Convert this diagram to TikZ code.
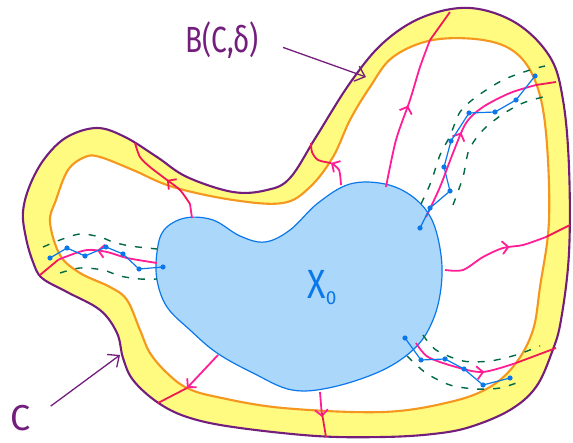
\documentclass[tikz,border=0pt]{standalone}
\usepackage{fontspec}
\setmainfont{Fira Sans}
\usetikzlibrary{arrows.meta,decorations.markings}
\definecolor{bandyellow}{RGB}{255,250,128}
\definecolor{bandorange}{RGB}{245,150,30}
\definecolor{curvepurple}{RGB}{115,30,125}
\definecolor{blobfill}{RGB}{170,215,250}
\definecolor{blobline}{RGB}{10,120,235}
\definecolor{flowpink}{RGB}{255,30,150}
\definecolor{flowred}{RGB}{240,25,85}
\definecolor{tubegreen}{RGB}{0,105,70}
\begin{document}
\begin{tikzpicture}[x=1pt,y=-1pt,
		outer/.style={fill=bandyellow, draw=curvepurple, line width=2.1pt},
		inner/.style={fill=white, draw=bandorange, line width=2.1pt},
		blob/.style={fill=blobfill, draw=blobline, line width=1.2pt},
		flow/.style={draw=flowpink, line width=1.8pt},
		cross/.style={draw=flowred, line width=1.8pt},
		tip/.style={-{Straight Barb[length=6pt,width=13pt]}},
		flowarrow/.style={postaction={decorate}, decoration={markings,
				mark=at position #1 with {\arrow{Straight Barb[length=6pt,width=13pt]}}}},
		chain/.style={draw=blobline, line width=1.2pt},
		dot/.style={fill=blobline},
		tube/.style={draw=tubegreen, line width=1.4pt, dash pattern=on 7pt off 9pt},
		lab/.style={text=curvepurple, font=\fontsize{28}{28}\selectfont},
		labarrow/.style={draw=curvepurple, line width=1.3pt, -{Straight Barb[length=9pt,width=16pt]}},
		]
		
		\useasboundingbox (0,0) rectangle (573,443);
		
		% band B(C,delta)
		\draw[outer] plot[smooth cycle, tension=0.6] coordinates {(23,212) (30,185) (45,158) (67,137) (97,128) (125,137) (157,157) (187,177) (233,192) (267,190) (290,178) (316,137) (350,83) (383,43) (423,17) (470,8) (516,23) (550,57) (563,100) (569,167) (569,253) (561,320) (552,352) (536,387) (510,410) (470,427) (433,434) (383,437) (316,436) (233,427) (187,417) (157,402) (133,380) (123,358) (117,333) (100,310) (67,292) (42,278) (33,262) (26,238)};
		\draw[inner] plot[smooth cycle, tension=0.6] coordinates {(50,222) (56,200) (68,170) (85,157) (100,157) (133,170) (173,187) (233,200) (283,203) (310,187) (333,157) (350,120) (370,87) (393,57) (433,40) (483,40) (516,53) (536,83) (546,133) (549,220) (540,287) (533,330) (516,363) (490,387) (450,402) (383,412) (283,408) (217,397) (187,388) (167,373) (150,353) (140,330) (127,300) (110,287) (80,273) (60,255)};
		
		% X_0
		\draw[blob] plot[smooth cycle, tension=0.6] coordinates {(157,252) (164,230) (185,218) (213,220) (240,236) (265,242) (290,230) (318,203) (350,184) (385,184) (413,197) (432,220) (441,255) (441,288) (433,320) (416,347) (383,370) (333,387) (292,390) (253,373) (217,353) (190,330) (167,307) (157,280)};
		
		% tubes
		\draw[tube] plot[smooth] coordinates {(43,247) (60,240) (80,234) (100,237) (113,242) (130,246) (157,249)};
		\draw[tube] plot[smooth] coordinates {(60,273) (80,268) (103,270) (120,276) (140,279) (157,279)};
		\draw[tube] plot[smooth] coordinates {(421,204) (431,182) (440,155) (450,136) (460,112) (476,97) (503,80) (530,70) (545,66)};
		\draw[tube] plot[smooth] coordinates {(453,205) (463,177) (469,150) (483,130) (503,114) (523,103) (543,97)};
		\draw[tube] plot[smooth] coordinates {(423,335) (436,350) (463,361) (490,361) (516,355) (540,346)};
		\draw[tube] plot[smooth] coordinates {(407,356) (426,373) (450,385) (476,389) (500,388) (522,381)};
		
		% flow lines
		\draw[flow] (192,218) -- (190,204);
		\draw[cross, flowarrow=0.4] plot[smooth] coordinates {(190,204) (180,190) (167,180) (150,167) (140,157) (135,143)};
		\draw[flow, tip] plot[smooth] coordinates {(341,185) (339,170) (331,163)};
		\draw[cross] plot[smooth] coordinates {(331,163) (318,160) (312,152) (311,143)};
		\draw[flow, flowarrow=0.55] plot[smooth] coordinates {(386,187) (396,140) (410,100) (420,67) (430,40)};
		\draw[cross] (430,40) -- (450,12);
		\draw[flow, flowarrow=0.5] plot[smooth] coordinates {(426,217) (440,187) (453,153) (466,123) (483,107) (510,93) (536,85)};
		\draw[cross] (536,85) -- (556,82);
		\draw[flow, flowarrow=0.65] plot[smooth] coordinates {(445,270) (463,270) (483,257) (503,248) (523,245) (546,237)};
		\draw[cross] (546,237) -- (570,225);
		\draw[flow, flowarrow=0.7] plot[smooth] coordinates {(416,343) (428,357) (456,367) (483,372) (516,363)};
		\draw[cross] (516,363) -- (556,348);
		\draw[flow, tip] (320,392) -- (322,417);
		\draw[cross] (322,413) -- (326,437);
		\draw[flow, tip] (218,355) -- (187,388);
		\draw[cross] (187,388) -- (158,403);
		\draw[flow, flowarrow=0.6] plot[smooth] coordinates {(157,263) (127,258) (107,252) (87,250) (65,257) (58,260)};
		\draw[cross] (58,260) -- (40,275);
		
		% chains
		\draw[chain] plot coordinates {(163,267) (139,269) (123,254) (106,247) (85,256) (67,248) (50,258)};
		\draw[chain] plot coordinates {(420,228) (430,208) (450,191) (444,167) (451,141) (469,113) (495,112) (516,100) (535,76)};
		\draw[chain] plot coordinates {(405,338) (421,360) (445,359) (464,369) (483,385) (510,378)};
		\foreach \p in {(163,267), (139,269), (123,254), (106,247), (85,256), (67,248), (50,258),
			(420,228), (430,208), (450,191), (444,167), (451,141), (469,113), (495,112), (516,100), (535,76),
			(405,338), (421,360), (445,359), (464,369), (483,385), (510,378)}
		\fill[dot] \p circle (2.6pt);
		
		% labels
		\node[lab] (bdelta) at (222,40) {\scalebox{1}[1.3]{B(C,δ)}};
		\node[lab, font=\fontsize{36}{36}\selectfont] (cname) at (21,418) {C};
		\node[text=blobline, font=\fontsize{34}{34}\selectfont] (xzero) at (322,288) {\scalebox{1}[1.2]{X}\raisebox{-6pt}{\fontsize{19}{19}\selectfont 0}};
		
		\coordinate (btip) at (366,77);
		\coordinate (ctip) at (120,355);
		\draw[labarrow, shorten <=22pt] (bdelta.east) -- (btip);
		\draw[labarrow, shorten <=20pt] (cname.east) -- (ctip);
		
	\end{tikzpicture}
\end{document}
